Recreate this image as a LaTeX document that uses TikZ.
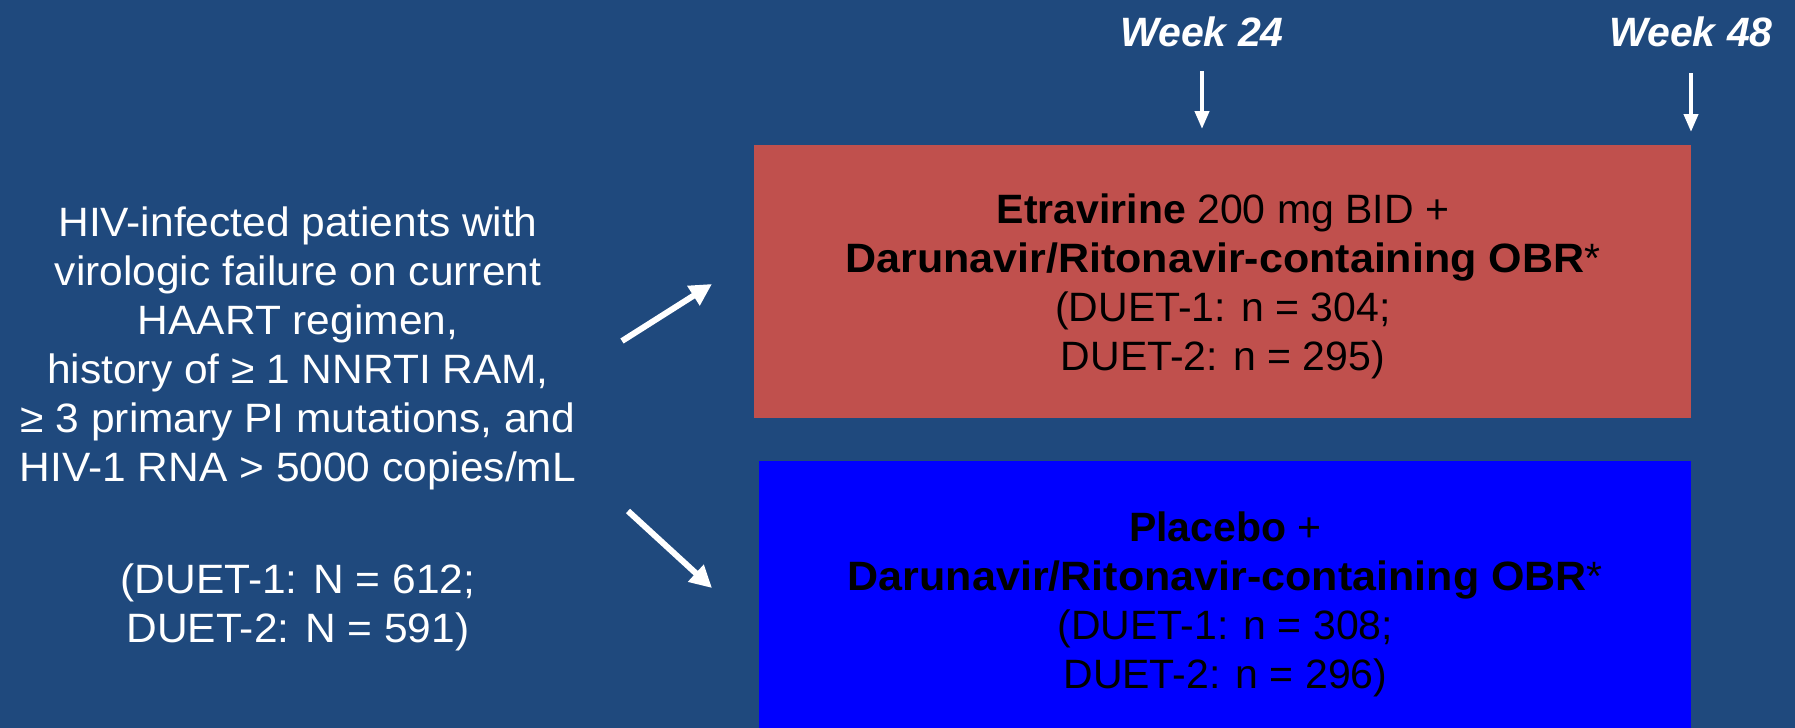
\documentclass[tikz,border=0pt]{standalone}
\usepackage{fontspec}
\setmainfont{Liberation Sans}
\usetikzlibrary{arrows.meta,positioning}
\definecolor{slidebg}{RGB}{31,73,125}
\definecolor{armred}{RGB}{192,80,77}
\definecolor{armblue}{RGB}{0,0,255}
\newcommand{\bodyfont}{\fontsize{20.5pt}{24.5pt}\selectfont}
\newcommand{\obrline}{\textbf{\addfontfeatures{FakeStretch=1.05}Darunavir/Ritonavir-containing OBR}*}

\begin{document}
\begin{tikzpicture}[
    x=0.5pt, y=-0.5pt,
    arm/.style={minimum height=136.5pt, inner sep=0pt, align=center, font=\bodyfont, anchor=north west},
    flow/.style={white, line width=3pt, -{Triangle[length=11pt,width=11pt]}},
    tick/.style={white, line width=2pt, -{Triangle[length=9pt,width=7pt]}},
    wk/.style={text=white, font=\bodyfont\bfseries\itshape, inner sep=0pt}
  ]
  \useasboundingbox (0,0) rectangle (1795,728);
  \fill[slidebg] (0,0) rectangle (1795,728);

  % study population
  \node[text=white, align=center, font=\bodyfont\addfontfeatures{FakeStretch=1.036}, inner sep=0pt] (pop) at (298,429)
    {HIV-infected patients with\\ virologic failure on current\\ HAART regimen,\\
     history of ≥ 1 NNRTI RAM,\\ ≥ 3 primary PI mutations, and\\
     HIV-1 RNA > 5000 copies/mL\\[31.5pt] (DUET-1: N = 612;\\ DUET-2: N = 591)};

  % treatment arms
  \node[arm, fill=armred, minimum width=468.5pt] (etr) at (754,145)
    {\rule{0pt}{19pt}\textbf{Etravirine} 200 mg BID +\\ \obrline\\
     (DUET-1: n = 304;\\ DUET-2: n = 295)};
  \node[arm, fill=armblue, minimum width=466pt] (plc) at (759,461)
    {\rule{0pt}{21pt}\textbf{Placebo} +\\ \obrline\\
     (DUET-1: n = 308;\\ DUET-2: n = 296)};

  % time points
  \node[wk] (w24) at (1202,32) {Week 24};
  \node[wk] (w48) at (1691,32) {Week 48};
  \draw[tick, shorten <=12pt, shorten >=8pt] (w24.south) -- (w24.south |- etr.north);
  \draw[tick, shorten <=13pt, shorten >=6.5pt] (w48.south) -- (w48.south |- etr.north);

  % randomisation
  \coordinate (up0) at (622,341);
  \coordinate (up1) at (712,284);
  \coordinate (dn0) at (628,511);
  \coordinate (dn1) at (712,588);
  \draw[flow] (up0) -- (up1);
  \draw[flow] (dn0) -- (dn1);
\end{tikzpicture}
\end{document}
